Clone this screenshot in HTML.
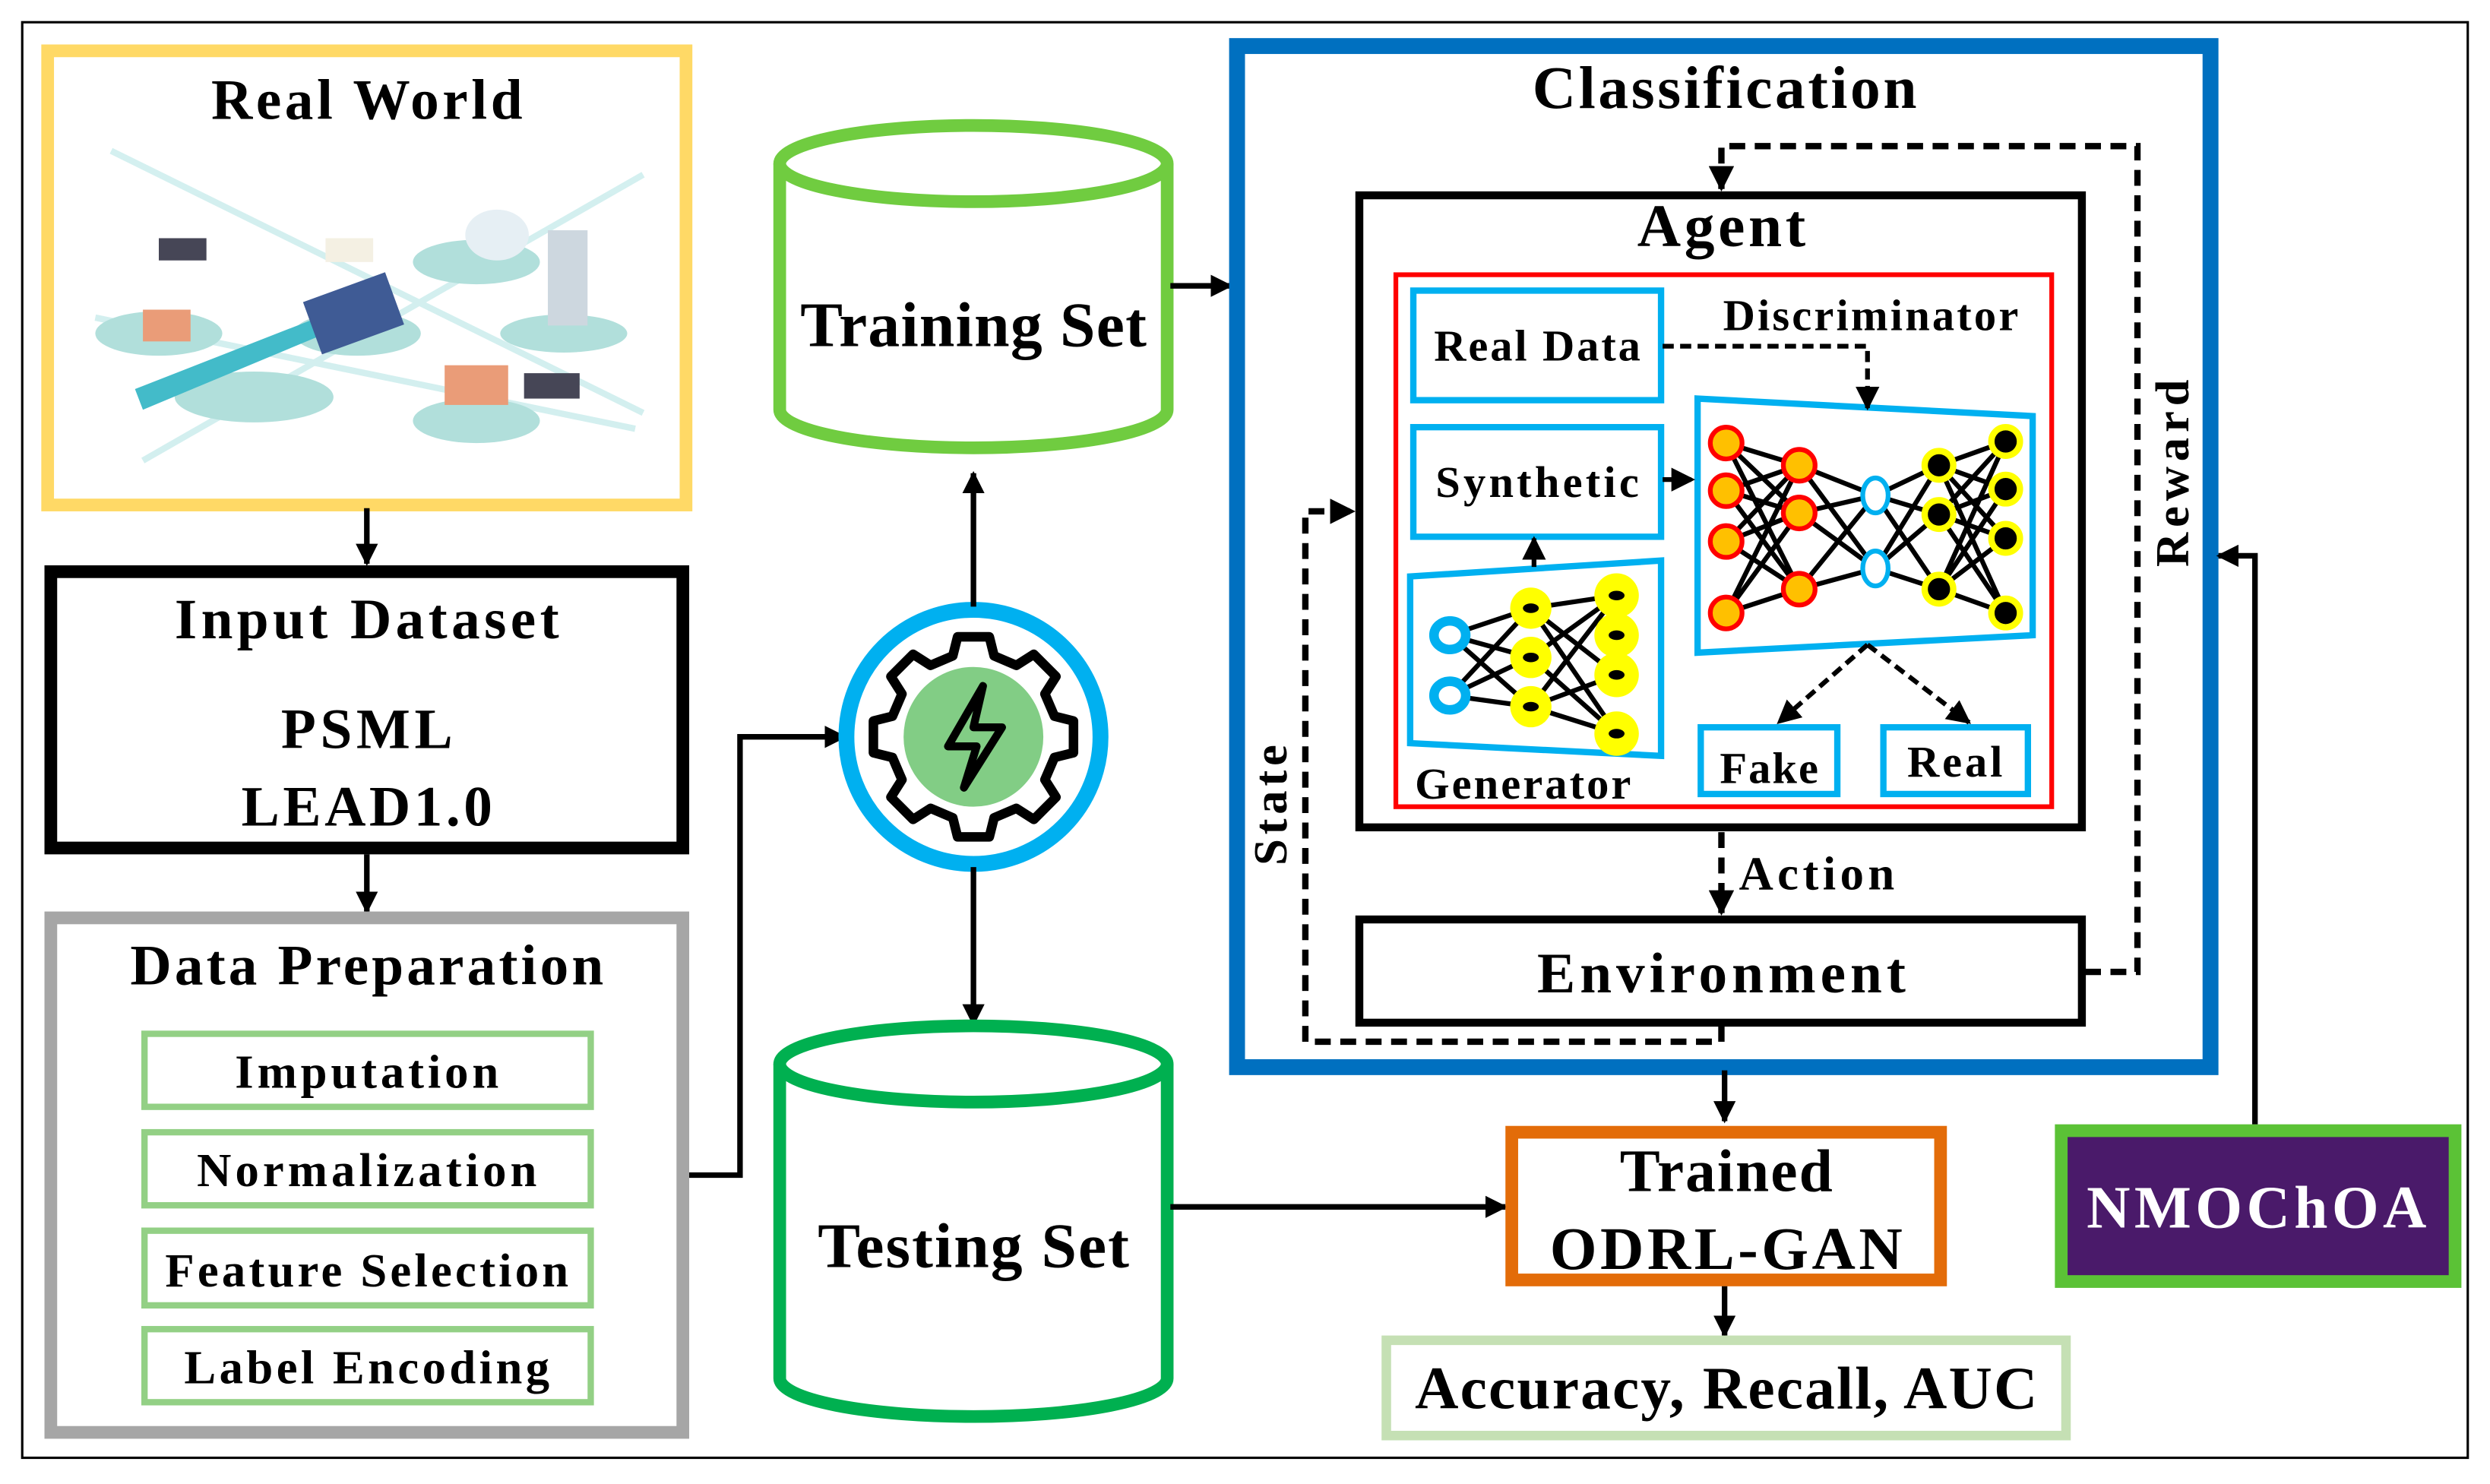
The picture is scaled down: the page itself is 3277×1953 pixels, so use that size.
<!DOCTYPE html>
<html><head><meta charset="utf-8"><style>
html,body{margin:0;padding:0;background:#fff}
svg{display:block}
text{font-family:"Liberation Serif",serif;font-weight:bold;fill:#000}
</style></head><body>
<svg width="3277" height="1953" viewBox="0 0 1568 934.5" preserveAspectRatio="none" xmlns="http://www.w3.org/2000/svg">
<defs>
<marker id="a" viewBox="0 0 10 10" refX="9" refY="5" markerWidth="4" markerHeight="4" orient="auto"><path d="M0,0L10,5L0,10z" fill="#000"/></marker>
<marker id="s" viewBox="0 0 10 10" refX="9" refY="5" markerWidth="5" markerHeight="5" orient="auto"><path d="M0,0L10,5L0,10z" fill="#000"/></marker>
</defs>
<rect x="14" y="14" width="1540" height="904" fill="none" stroke="#000" stroke-width="1.5"/>

<!-- Real World -->
<rect x="30" y="32" width="402" height="286" fill="#fff" stroke="#FFD966" stroke-width="8"/>
<text x="231" y="75" font-size="36" text-anchor="middle" textLength="196">Real World</text>
<g opacity="0.9">
<path d="M70 95 L405 260 M90 290 L405 110 M60 200 L400 270" stroke="#cfeeee" stroke-width="4" fill="none"/>
<ellipse cx="100" cy="210" rx="40" ry="14" fill="#a9dcd8"/>
<ellipse cx="160" cy="250" rx="50" ry="16" fill="#a9dcd8"/>
<ellipse cx="225" cy="210" rx="40" ry="14" fill="#a9dcd8"/>
<ellipse cx="300" cy="165" rx="40" ry="14" fill="#a9dcd8"/>
<ellipse cx="300" cy="265" rx="40" ry="14" fill="#a9dcd8"/>
<ellipse cx="355" cy="210" rx="40" ry="12" fill="#a9dcd8"/>
<path d="M85 245 L200 200 L205 210 L90 258z" fill="#2fb4c4"/>
<rect x="195" y="180" width="55" height="35" fill="#2b4a8a" transform="rotate(-20 222 197)"/>
<rect x="345" y="145" width="25" height="60" fill="#c8d3dc"/>
<rect x="280" y="230" width="40" height="25" fill="#e8926a"/>
<rect x="90" y="195" width="30" height="20" fill="#e8926a"/>
<rect x="100" y="150" width="30" height="14" fill="#334"/>
<rect x="330" y="235" width="35" height="16" fill="#334"/>
<ellipse cx="313" cy="148" rx="20" ry="16" fill="#e4eef3"/>
<rect x="205" y="150" width="30" height="15" fill="#f3efe0"/>
</g>
<line x1="231" y1="320" x2="231" y2="355" stroke="#000" stroke-width="3.5" marker-end="url(#a)"/>

<!-- Input Dataset -->
<rect x="32" y="360" width="398" height="174" fill="#fff" stroke="#000" stroke-width="8"/>
<text x="231" y="402" font-size="36" text-anchor="middle" textLength="242">Input Dataset</text>
<text x="231" y="471" font-size="36" text-anchor="middle" textLength="108">PSML</text>
<text x="231" y="520" font-size="36" text-anchor="middle" textLength="158">LEAD1.0</text>
<line x1="231" y1="538" x2="231" y2="574" stroke="#000" stroke-width="3.5" marker-end="url(#a)"/>

<!-- Data Preparation -->
<rect x="32" y="578" width="398" height="324" fill="#fff" stroke="#A6A6A6" stroke-width="8"/>
<text x="231" y="620" font-size="36" text-anchor="middle" textLength="298">Data Preparation</text>
<g fill="#fff" stroke="#93D085" stroke-width="4">
<rect x="91" y="651" width="281" height="46"/>
<rect x="91" y="713" width="281" height="46"/>
<rect x="91" y="775" width="281" height="47"/>
<rect x="91" y="837" width="281" height="46"/>
</g>
<text x="231" y="685" font-size="30" text-anchor="middle" textLength="166">Imputation</text>
<text x="231" y="747" font-size="30" text-anchor="middle" textLength="214">Normalization</text>
<text x="231" y="810" font-size="30" text-anchor="middle" textLength="254">Feature Selection</text>
<text x="231" y="871" font-size="30" text-anchor="middle" textLength="230">Label Encoding</text>

<polyline points="434,740 466,740 466,464 532,464" fill="none" stroke="#000" stroke-width="3.5" marker-end="url(#a)"/>

<!-- Gear -->
<circle cx="613" cy="464" r="80" fill="#fff" stroke="#00B0F0" stroke-width="10"/>
<g transform="translate(613,464)">
<g fill="none" stroke="#000" stroke-width="6" stroke-linejoin="round">
<path d="M-10,-68 L10,-68 L13,-56 L27,-50 L38,-57 L52,-43 L45,-32 L51,-18 L63,-15 L63,5 L51,8 L45,22 L52,33 L38,47 L27,40 L13,46 L10,58 L-10,58 L-13,46 L-27,40 L-38,47 L-52,33 L-45,22 L-51,8 L-63,5 L-63,-15 L-51,-18 L-45,-32 L-52,-43 L-38,-57 L-27,-50 L-13,-56 Z" transform="translate(0,5)"/>
</g>
<circle cx="0" cy="0" r="44" fill="#82CD85"/>
<path d="M6,-32 L-16,6 L2,6 L-6,32 L18,-6 L0,-6 Z" fill="none" stroke="#000" stroke-width="5" stroke-linejoin="round"/>
</g>
<line x1="613" y1="382" x2="613" y2="298" stroke="#000" stroke-width="3.5" marker-end="url(#a)"/>
<line x1="613" y1="546" x2="613" y2="645" stroke="#000" stroke-width="3.5" marker-end="url(#a)"/>

<!-- Training Set -->
<path d="M491,103 L491,258 A122,24 0 0 0 735,258 L735,103" fill="#fff" stroke="#70CC40" stroke-width="8"/>
<ellipse cx="613" cy="103" rx="122" ry="24" fill="#fff" stroke="#70CC40" stroke-width="8"/>
<text x="613" y="218" font-size="40" text-anchor="middle" textLength="218">Training Set</text>
<line x1="737" y1="180" x2="775" y2="180" stroke="#000" stroke-width="3.5" marker-end="url(#a)"/>

<!-- Testing Set -->
<path d="M491,670 L491,868 A122,24 0 0 0 735,868 L735,670" fill="#fff" stroke="#00B050" stroke-width="8"/>
<ellipse cx="613" cy="670" rx="122" ry="24" fill="#fff" stroke="#00B050" stroke-width="8"/>
<text x="613" y="798" font-size="40" text-anchor="middle" textLength="196">Testing Set</text>
<line x1="737" y1="760" x2="948" y2="760" stroke="#000" stroke-width="3.5" marker-end="url(#a)"/>

<!-- Classification -->
<rect x="779" y="29" width="613" height="643" fill="#fff" stroke="#0070C0" stroke-width="10"/>
<text x="1086" y="68" font-size="38" text-anchor="middle" textLength="242">Classification</text>

<!-- Agent -->
<rect x="856" y="123" width="455" height="398" fill="#fff" stroke="#000" stroke-width="5"/>
<text x="1084" y="155" font-size="38" text-anchor="middle" textLength="106">Agent</text>
<rect x="879" y="173" width="413" height="335" fill="#fff" stroke="#f00" stroke-width="3"/>

<g fill="#fff" stroke="#00B0F0" stroke-width="4">
<rect x="890" y="183" width="156" height="69"/>
<rect x="890" y="269" width="156" height="69"/>
<polygon points="1069,251 1280,262 1280,400 1069,411"/>
<polygon points="888,363 1046,353 1046,476 888,468"/>
<rect x="1071" y="458" width="86" height="42"/>
<rect x="1186" y="458" width="91" height="42"/>
</g>
<text x="968" y="227" font-size="28" text-anchor="middle" font-weight="normal" textLength="130">Real Data</text>
<text x="968" y="313" font-size="28" text-anchor="middle" font-weight="normal" textLength="128">Synthetic</text>
<text x="1178" y="208" font-size="28" text-anchor="middle" font-weight="normal" textLength="186">Discriminator</text>
<text x="959" y="503" font-size="28" text-anchor="middle" font-weight="normal" textLength="136">Generator</text>
<text x="1114" y="493" font-size="28" text-anchor="middle" font-weight="normal" textLength="62">Fake</text>
<text x="1231" y="489" font-size="28" text-anchor="middle" font-weight="normal" textLength="60">Real</text>

<!-- discriminator network -->
<g stroke="#000" stroke-width="3" fill="none">
<path d="M1087,279 L1133,293 M1087,279 L1133,323 M1087,279 L1133,371 M1087,309 L1133,293 M1087,309 L1133,323 M1087,309 L1133,371 M1087,341 L1133,293 M1087,341 L1133,323 M1087,341 L1133,371 M1087,386 L1133,293 M1087,386 L1133,323 M1087,386 L1133,371"/>
<path d="M1133,293 L1181,312 M1133,293 L1181,358 M1133,323 L1181,312 M1133,323 L1181,358 M1133,371 L1181,312 M1133,371 L1181,358"/>
<path d="M1181,312 L1221,293 M1181,312 L1221,324 M1181,312 L1221,371 M1181,358 L1221,293 M1181,358 L1221,324 M1181,358 L1221,371"/>
<path d="M1221,293 L1263,278 M1221,293 L1263,308 M1221,293 L1263,339 M1221,293 L1263,386 M1221,324 L1263,278 M1221,324 L1263,308 M1221,324 L1263,339 M1221,324 L1263,386 M1221,371 L1263,278 M1221,371 L1263,308 M1221,371 L1263,339 M1221,371 L1263,386"/>
</g>
<g fill="#FFC000" stroke="#f00" stroke-width="3">
<circle cx="1087" cy="279" r="10"/><circle cx="1087" cy="309" r="10"/><circle cx="1087" cy="341" r="10"/><circle cx="1087" cy="386" r="10"/>
<circle cx="1133" cy="293" r="10"/><circle cx="1133" cy="323" r="10"/><circle cx="1133" cy="371" r="10"/>
</g>
<g fill="#fff" stroke="#00B0F0" stroke-width="3"><ellipse cx="1181" cy="312" rx="8" ry="11"/><ellipse cx="1181" cy="358" rx="8" ry="11"/></g>
<g fill="#000" stroke="#FFFF00" stroke-width="4">
<circle cx="1221" cy="293" r="9"/><circle cx="1221" cy="324" r="9"/><circle cx="1221" cy="371" r="9"/>
<circle cx="1263" cy="278" r="9"/><circle cx="1263" cy="308" r="9"/><circle cx="1263" cy="339" r="9"/><circle cx="1263" cy="386" r="9"/>
</g>

<!-- generator network -->
<g stroke="#000" stroke-width="3" fill="none">
<path d="M913,400 L964,383 M913,400 L964,445 M913,438 L964,383 M913,438 L964,445 M913,400 L964,414 M913,438 L964,414"/>
<path d="M964,383 L1018,375 M964,383 L1018,462 M964,414 L1018,375 M964,414 L1018,462 M964,445 L1018,375 M964,445 L1018,462 M964,383 L1018,425 M964,445 L1018,425"/>
</g>
<g fill="#fff" stroke="#00B0F0" stroke-width="6"><ellipse cx="913" cy="400" rx="10" ry="9"/><ellipse cx="913" cy="438" rx="10" ry="9"/></g>
<g fill="#FFFF00"><circle cx="964" cy="383" r="13"/><circle cx="964" cy="414" r="13"/><circle cx="964" cy="445" r="13"/><circle cx="1018" cy="375" r="14"/><circle cx="1018" cy="400" r="14"/><circle cx="1018" cy="425" r="14"/><circle cx="1018" cy="462" r="14"/></g>
<g fill="#000"><ellipse cx="964" cy="383" rx="5" ry="3"/><ellipse cx="964" cy="414" rx="5" ry="3"/><ellipse cx="964" cy="445" rx="5" ry="3"/><ellipse cx="1018" cy="375" rx="5" ry="3"/><ellipse cx="1018" cy="400" rx="5" ry="3"/><ellipse cx="1018" cy="425" rx="5" ry="3"/><ellipse cx="1018" cy="462" rx="5" ry="3"/></g>

<!-- internal dashed arrows -->
<g stroke="#000" stroke-width="3" fill="none" stroke-dasharray="7,4">
<polyline points="1047,218 1176,218 1176,257" marker-end="url(#s)"/>
<line x1="1047" y1="302" x2="1066" y2="302" marker-end="url(#s)"/>
<line x1="1176" y1="406" x2="1120" y2="455" marker-end="url(#s)"/>
<line x1="1176" y1="406" x2="1240" y2="455" marker-end="url(#s)"/>
</g>
<line x1="966" y1="357" x2="966" y2="339" stroke="#000" stroke-width="3" marker-end="url(#s)"/>

<!-- Environment -->
<rect x="856" y="579" width="455" height="65" fill="#fff" stroke="#000" stroke-width="5"/>
<text x="1084" y="625" font-size="36" text-anchor="middle" textLength="232">Environment</text>

<g stroke="#000" stroke-width="4" fill="none" stroke-dasharray="10,6">
<line x1="1084" y1="524" x2="1084" y2="575" marker-end="url(#a)"/>
<polyline points="1313,612 1346,612 1346,92 1084,92 1084,119" marker-end="url(#a)"/>
<polyline points="1084,646 1084,656 822,656 822,322 852,322" marker-end="url(#a)"/>
</g>
<text x="1144" y="560" font-size="30" text-anchor="middle" textLength="98">Action</text>
<text transform="translate(1378,298) rotate(-90)" font-size="30" text-anchor="middle" textLength="118">Reward</text>
<text transform="translate(810,507) rotate(-90)" font-size="30" text-anchor="middle" textLength="76">State</text>

<line x1="1086" y1="674" x2="1086" y2="706" stroke="#000" stroke-width="3.5" marker-end="url(#a)"/>

<!-- Trained -->
<rect x="952" y="713" width="270" height="93" fill="#fff" stroke="#E36C09" stroke-width="8"/>
<text x="1087" y="750" font-size="38" text-anchor="middle" textLength="134">Trained</text>
<text x="1087" y="799" font-size="38" text-anchor="middle" textLength="222">ODRL-GAN</text>
<line x1="1086" y1="810" x2="1086" y2="841" stroke="#000" stroke-width="3.5" marker-end="url(#a)"/>

<!-- Accuracy -->
<rect x="873" y="844" width="428" height="60" fill="#fff" stroke="#C5E0B4" stroke-width="6"/>
<text x="1087" y="887" font-size="38" text-anchor="middle" textLength="392">Accuracy, Recall, AUC</text>

<!-- NMOChOA -->
<rect x="1298" y="712" width="248" height="95" fill="#4a1a6a" stroke="#5BC236" stroke-width="8"/>
<text x="1421" y="773" font-size="38" text-anchor="middle" textLength="214" style="fill:#fff">NMOChOA</text>
<polyline points="1420,708 1420,350 1397,350" fill="none" stroke="#000" stroke-width="3.5" marker-end="url(#a)"/>
</svg>
</body></html>
